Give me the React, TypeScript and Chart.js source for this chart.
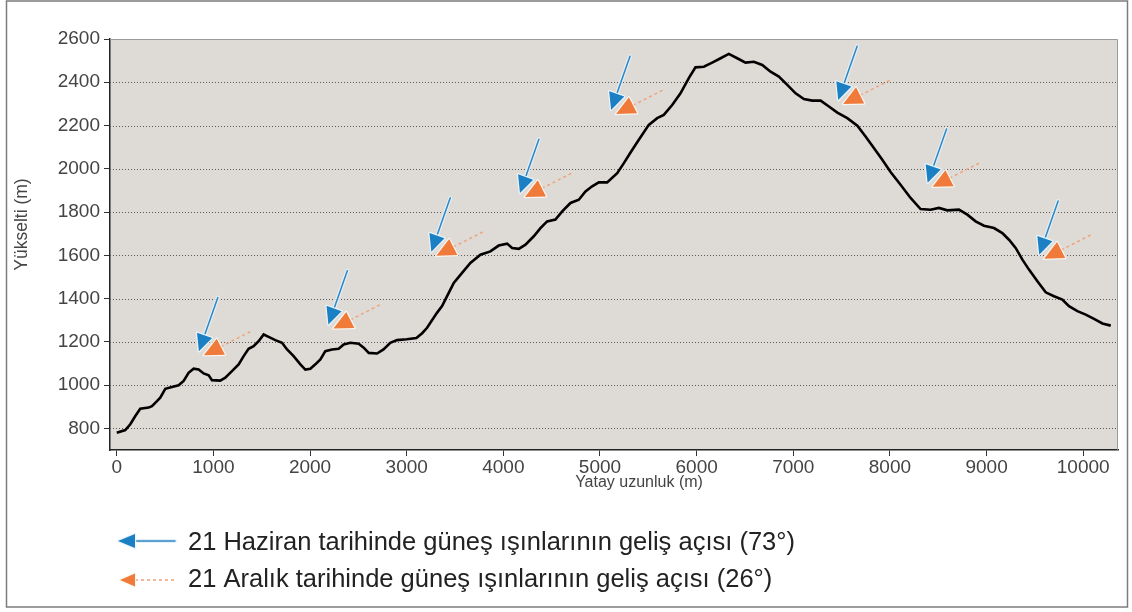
import React, { useEffect, useRef } from "react";
import { Chart, registerables } from "chart.js";

Chart.register(...registerables);

// Profile: horizontal distance (m) and elevation (m)
const distances = [
  0, 88, 140, 192, 243, 330, 364, 416, 450, 502, 571, 640, 692, 743, 795, 847, 899, 951, 985,
  1071, 1123, 1192, 1261, 1313, 1364, 1416, 1468, 1520, 1571, 1641, 1710, 1762, 1830, 1900, 1951,
  2003, 2055, 2107, 2158, 2228, 2296, 2348, 2417, 2503, 2555, 2607, 2693, 2760, 2830, 2900, 3000,
  3100, 3160, 3211, 3313, 3366, 3435, 3487, 3573, 3659, 3763, 3866, 3952, 4039, 4091, 4160, 4229,
  4315, 4384, 4453, 4539, 4609, 4695, 4781, 4850, 4919, 4988, 5074, 5178, 5247, 5316, 5402, 5505,
  5592, 5660, 5747, 5833, 5919, 5988, 6074, 6161, 6248, 6333, 6420, 6506, 6592, 6679, 6765, 6851,
  6938, 7024, 7110, 7197, 7283, 7369, 7456, 7559, 7663, 7748, 7834, 7921, 8007, 8110, 8214, 8317,
  8421, 8507, 8594, 8714, 8801, 8887, 8973, 9077, 9163, 9232, 9301, 9371, 9439, 9526, 9612, 9698,
  9784, 9853, 9940, 10026, 10112, 10199, 10285,
];
const elevations = [
  780, 792, 819, 857, 891, 896, 903, 926, 942, 983, 991, 999, 1019, 1057, 1076, 1072, 1054, 1045, 1023,
  1021, 1034, 1065, 1096, 1134, 1168, 1180, 1203, 1234, 1223, 1208, 1196, 1165, 1134, 1096, 1072,
  1076, 1096, 1119, 1157, 1165, 1168, 1188, 1196, 1191, 1173, 1149, 1146, 1165, 1195, 1208, 1212,
  1218, 1240, 1265, 1334, 1365, 1426, 1472, 1519, 1565, 1603, 1618, 1645, 1654, 1634, 1630, 1649,
  1688, 1726, 1757, 1765, 1803, 1842, 1857, 1895, 1919, 1937, 1937, 1980, 2026, 2075, 2134, 2203,
  2234, 2249, 2295, 2349, 2419, 2469, 2472, 2491, 2511, 2531, 2511, 2491, 2495, 2480, 2449, 2426,
  2388, 2349, 2322, 2315, 2315, 2288, 2260, 2234, 2199, 2149, 2096, 2042, 1985, 1926, 1865, 1814,
  1811, 1819, 1808, 1811, 1788, 1757, 1737, 1726, 1703, 1672, 1634, 1580, 1534, 1480, 1429, 1411,
  1395, 1365, 1342, 1326, 1306, 1285, 1275,
];

// Sun-ray arrow pairs (tip location in data units)
const arrowX = [850, 2190, 3255, 4172, 5115, 7465, 8390, 9545];
const arrowY = [1156, 1280, 1617, 1888, 2272, 2318, 1935, 1603];

const xTicks = [0, 1000, 2000, 3000, 4000, 5000, 6000, 7000, 8000, 9000, 10000];
const yTicks = [800, 1000, 1200, 1400, 1600, 1800, 2000, 2200, 2400, 2600];

const xTitle = "Yatay uzunluk (m)";
const yTitle = "Yükselti (m)";
const legendJune = "21 Haziran tarihinde güneş ışınlarının geliş açısı (73°)";
const legendDec = "21 Aralık tarihinde güneş ışınlarının geliş açısı (26°)";

const FONT = "'Liberation Sans', Arial, Helvetica, sans-serif";
const BLUE = "#1b7fc4";
const BLUE_LINE = "#2f86c2";
const ORANGE = "#ef7a3a";
const ORANGE_LINE = "#f0a37a";

function triPath(ctx: CanvasRenderingContext2D, tx: number, ty: number, ang: number, len: number, half: number) {
  const dx = Math.cos(ang), dy = Math.sin(ang);
  const bx = tx + dx * len, by = ty + dy * len;
  ctx.beginPath();
  ctx.moveTo(tx, ty);
  ctx.lineTo(bx - dy * half, by + dx * half);
  ctx.lineTo(bx + dy * half, by - dx * half);
  ctx.closePath();
}

function drawBlue(ctx: CanvasRenderingContext2D, tx: number, ty: number, ang: number, total: number, hl: number, hw: number) {
  const dx = Math.cos(ang), dy = Math.sin(ang);
  const ex = tx + dx * total, ey = ty + dy * total;
  ctx.save();
  ctx.lineCap = "round";
  ctx.strokeStyle = "rgba(225,240,250,0.9)";
  ctx.lineWidth = 4;
  ctx.beginPath();
  ctx.moveTo(tx + dx * hl, ty + dy * hl);
  ctx.lineTo(ex, ey);
  ctx.stroke();
  ctx.strokeStyle = BLUE_LINE;
  ctx.lineWidth = 1.5;
  ctx.beginPath();
  ctx.moveTo(tx + dx * hl, ty + dy * hl);
  ctx.lineTo(ex, ey);
  ctx.stroke();
  triPath(ctx, tx, ty, ang, hl, hw);
  ctx.lineJoin = "round";
  ctx.strokeStyle = "rgba(235,245,252,0.95)";
  ctx.lineWidth = 2.5;
  ctx.stroke();
  ctx.fillStyle = BLUE;
  ctx.fill();
  ctx.restore();
}

function drawOrange(ctx: CanvasRenderingContext2D, tx: number, ty: number, ang: number, total: number, hl: number, hw: number) {
  const dx = Math.cos(ang), dy = Math.sin(ang);
  const ex = tx + dx * total, ey = ty + dy * total;
  ctx.save();
  ctx.strokeStyle = ORANGE_LINE;
  ctx.lineWidth = 1.5;
  ctx.setLineDash([3, 3]);
  ctx.beginPath();
  ctx.moveTo(tx + dx * hl, ty + dy * hl);
  ctx.lineTo(ex, ey);
  ctx.stroke();
  ctx.setLineDash([]);
  triPath(ctx, tx, ty, ang, hl, hw);
  ctx.lineJoin = "round";
  ctx.strokeStyle = "rgba(250,245,240,0.95)";
  ctx.lineWidth = 2.5;
  ctx.stroke();
  ctx.fillStyle = ORANGE;
  ctx.fill();
  ctx.restore();
}

const BLUE_ANG = Math.atan2(-54, 19);
const ORANGE_ANG = Math.atan2(-25, 49);

const decorPlugin = {
  id: "decor",
  beforeDraw(chart: any) {
    const { ctx, chartArea: a } = chart;
    ctx.save();
    ctx.fillStyle = "#ffffff";
    ctx.fillRect(0, 0, chart.width, chart.height);
    ctx.fillStyle = "#dedad6";
    ctx.fillRect(a.left, a.top, a.right - a.left, a.bottom - a.top);
    ctx.restore();
  },
  beforeDatasetsDraw(chart: any) {
    const { ctx, chartArea: a, scales } = chart;
    ctx.save();
    ctx.strokeStyle = "#5a5a5a";
    ctx.lineWidth = 1;
    ctx.setLineDash([1, 2]);
    for (const v of yTicks) {
      const y = Math.round(scales.y.getPixelForValue(v)) + 0.5;
      if (y <= a.top + 2) continue;
      ctx.beginPath();
      ctx.moveTo(a.left, y);
      ctx.lineTo(a.right, y);
      ctx.stroke();
    }
    ctx.setLineDash([]);
    ctx.strokeStyle = "#9a9a9a";
    ctx.beginPath();
    ctx.moveTo(a.left, a.top + 0.5);
    ctx.lineTo(a.right - 0.5, a.top + 0.5);
    ctx.lineTo(a.right - 0.5, a.bottom);
    ctx.stroke();
    ctx.restore();
  },
  afterDatasetsDraw(chart: any) {
    const { ctx, scales } = chart;
    for (let i = 0; i < arrowX.length; i++) {
      const tx = scales.x.getPixelForValue(arrowX[i]);
      const ty = scales.y.getPixelForValue(arrowY[i]);
      drawOrange(ctx, tx + 5, ty + 4, ORANGE_ANG, 55, 19, 9);
      drawBlue(ctx, tx, ty, BLUE_ANG, 57, 17, 8);
    }
  },
  afterDraw(chart: any) {
    const { ctx, chartArea: a } = chart;
    ctx.save();
    // outer frame
    ctx.strokeStyle = "#7c7c7c";
    ctx.lineWidth = 1.5;
    ctx.strokeRect(6.5, 1, 1121, 606);
    // axis titles
    ctx.fillStyle = "#444";
    ctx.font = `16px ${FONT}`;
    ctx.textAlign = "center";
    ctx.textBaseline = "middle";
    ctx.fillText(xTitle, (a.left + a.right) / 2 + 25, a.bottom + 33);
    ctx.save();
    ctx.font = `17.5px ${FONT}`;
    ctx.translate(22, (a.top + a.bottom) / 2 - 20);
    ctx.rotate(-Math.PI / 2);
    ctx.fillText(yTitle, 0, 0);
    ctx.restore();
    // legend
    drawBlue(ctx, 118, 541, 0, 57, 17, 7);
    drawOrange(ctx, 120, 580, 0, 55, 15, 6.5);
    ctx.fillStyle = "#222";
    ctx.font = `25.5px ${FONT}`;
    ctx.textAlign = "left";
    ctx.fillText(legendJune, 188, 543);
    ctx.fillText(legendDec, 188, 580);
    ctx.restore();
  },
};

const plain = (v: any) => String(v);

export default function App() {
  const ref = useRef<HTMLCanvasElement | null>(null);
  useEffect(() => {
    if (!ref.current) return;
    const chart = new Chart(ref.current, {
      type: "line",
      data: {
        datasets: [
          {
            data: distances.map((d, i) => ({ x: d, y: elevations[i] })),
            borderColor: "#000",
            borderWidth: 2.6,
            pointRadius: 0,
            tension: 0,
            fill: false,
          },
        ],
      },
      options: {
        animation: false,
        responsive: false,
        maintainAspectRatio: false,
        layout: { padding: { left: 0, top: 39, right: 14, bottom: 122 } },
        plugins: { legend: { display: false }, tooltip: { enabled: false }, title: { display: false } },
        scales: {
          x: {
            type: "linear",
            min: -70,
            max: 10360,
            afterBuildTicks: (s: any) => {
              s.ticks = xTicks.map((v) => ({ value: v }));
            },
            afterFit: (s: any) => {
              s.height = 40;
            },
            grid: { drawOnChartArea: false, drawTicks: true, tickLength: 6, tickColor: "#333", lineWidth: 1 },
            border: { display: true, color: "#222", width: 1.5 },
            ticks: { autoSkip: false, maxRotation: 0, padding: 0, color: "#444", font: { family: FONT, size: 19 }, callback: plain },
          },
          y: {
            type: "linear",
            min: 700,
            max: 2600,
            afterBuildTicks: (s: any) => {
              s.ticks = yTicks.map((v) => ({ value: v }));
            },
            afterFit: (s: any) => {
              s.width = 110;
            },
            grid: { drawOnChartArea: false, drawTicks: true, tickLength: 6, tickColor: "#333", lineWidth: 1 },
            border: { display: true, color: "#222", width: 1.5 },
            ticks: { autoSkip: false, padding: 4, color: "#444", font: { family: FONT, size: 19 }, callback: plain },
          },
        },
      },
      plugins: [decorPlugin],
    });
    return () => chart.destroy();
  }, []);
  return (
    <div style={{ position: "fixed", left: 0, top: 0, width: 1132, height: 612, background: "#fff" }}>
      <canvas ref={ref} width={1132} height={612} style={{ display: "block" }} />
    </div>
  );
}
